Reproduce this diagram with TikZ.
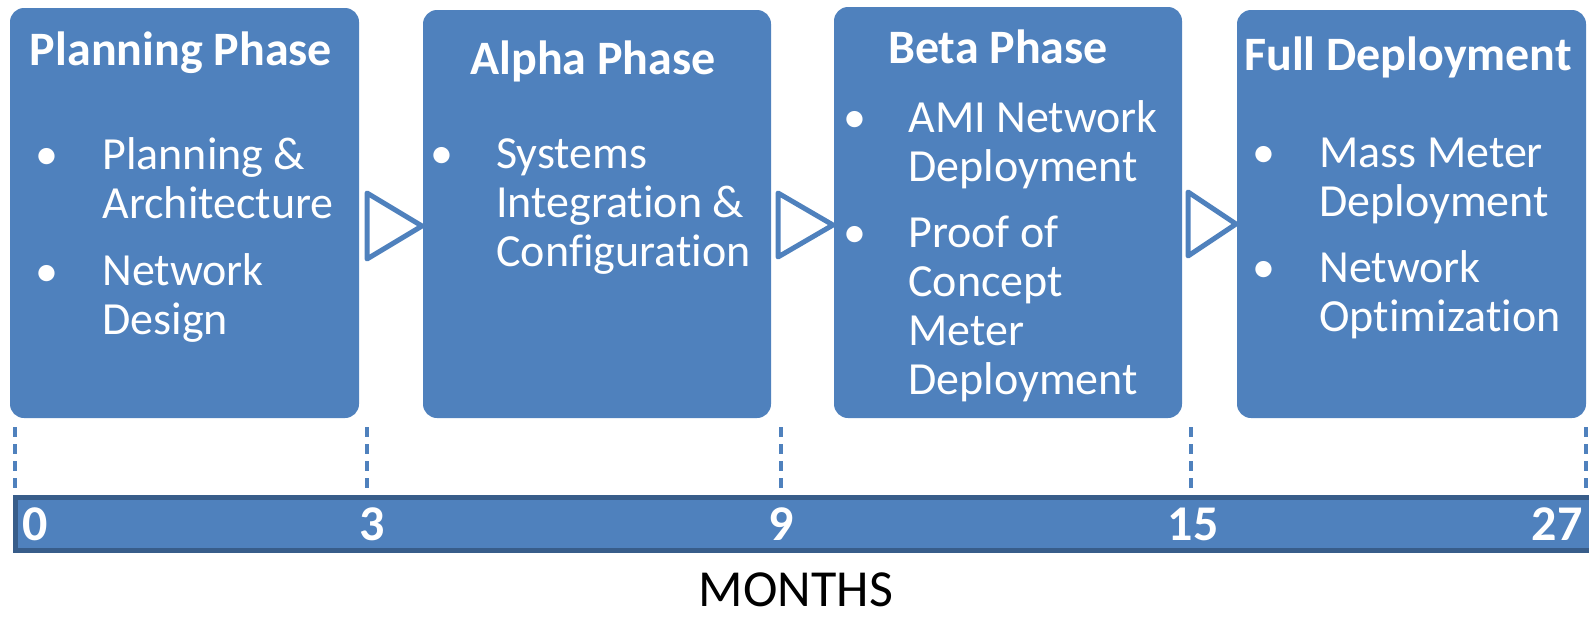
\documentclass[tikz,border=0pt]{standalone}
\usepackage{fontspec}
\setmainfont{Carlito}[Ligatures=NoCommon]
\usepackage{xcolor}
\usetikzlibrary{positioning}
\definecolor{phblue}{HTML}{4F81BD}
\definecolor{bardark}{HTML}{385D8A}
\tikzset{ph/.style={fill=phblue,rounded corners=7pt,inner sep=0pt}}
\tikzset{tl/.style={text=white,anchor=base,inner sep=0pt,
font=\fontsize{24}{24}\selectfont\bfseries}}
\tikzset{it/.style={text=white,anchor=base west,align=left,inner sep=0pt,
font=\fontsize{23}{24.5}\selectfont}}
\tikzset{bu/.style={text=white,anchor=base,inner sep=0pt,
font=\fontsize{23}{24.5}\selectfont}}
\tikzset{tri/.style={draw=phblue,fill=white,line width=2.5pt,line join=round}}
\tikzset{dl/.style={draw=phblue,line width=1.6pt,dash pattern=on 5pt off 3.5pt}}
\tikzset{nb/.style={text=white,anchor=base,inner sep=0pt,
font=\fontsize{25}{25}\selectfont\bfseries}}

\begin{document}
\begin{tikzpicture}[x=0.5pt,y=-0.5pt]
\useasboundingbox (0,0) rectangle (1589,616);

% phase boxes
\node [ph, minimum width=174.5pt, minimum height=205pt] (b1) at (184.5,213) {};
\node [ph, minimum width=174pt, minimum height=204pt] (b2) at (597,214) {};
\node [ph, minimum width=174pt, minimum height=205.5pt] (b3) at (1008,212.5) {};
\node [ph, minimum width=174.5pt, minimum height=204pt] (b4) at (1411.5,214) {};

% titles
\node [tl] (t1) at (181,65) {Planning Phase};
\node [tl] (t2) at (593,74) {Alpha Phase};
\node [tl] (t3) at (998,63) {Beta Phase};
\node [tl] (t4) at (1408,70) {Full Deployment};

% items (base = last line)
\node [bu] (d11) at (47,169) {\textbullet};
\node [it] (i11) at (102,218) {Planning \&\\Architecture};
\node [bu] (d12) at (47,286) {\textbullet};
\node [it] (i12) at (102,334) {Network\\Design};

\node [bu] (d21) at (442,168) {\textbullet};
\node [it] (i21) at (496,266) {Systems\\Integration \&\\Configuration};

\node [bu] (d31) at (855,132) {\textbullet};
\node [it] (i31) at (908,181) {AMI Network\\Deployment};
\node [bu] (d32) at (855,247) {\textbullet};
\node [it] (i32) at (908,394) {Proof of\\Concept\\Meter\\Deployment};

\node [bu] (d41) at (1264,167) {\textbullet};
\node [it] (i41) at (1319,216) {Mass Meter\\Deployment};
\node [bu] (d42) at (1264,282) {\textbullet};
\node [it] (i42) at (1319,331) {Network\\Optimization};

% chevrons
\draw [tri] (367,193) -- (422,226) -- (367,259) -- cycle;
\draw [tri] (778,193) -- (833,225) -- (778,257) -- cycle;
\draw [tri] (1188,192) -- (1236,224) -- (1188,256) -- cycle;

% timeline
\draw [fill=phblue, draw=bardark, line width=2.5pt] (15.5,497.5) rectangle (1600,550.5);
\foreach \x in {15,367,781,1191,1586}
  \draw [dl] (\x,427) -- (\x,492);

\node [nb] (m0) at (35,540) {0};
\node [nb] (m3) at (372,540) {3};
\node [nb] (m9) at (781,540) {9};
\node [nb] (m15) at (1193,540) {15};
\node [nb] (m27) at (1557,540) {27};

\node [anchor=base, inner sep=0pt, font=\fontsize{26}{26}\selectfont] (mo) at (796,606) {MONTHS};
\end{tikzpicture}
\end{document}
